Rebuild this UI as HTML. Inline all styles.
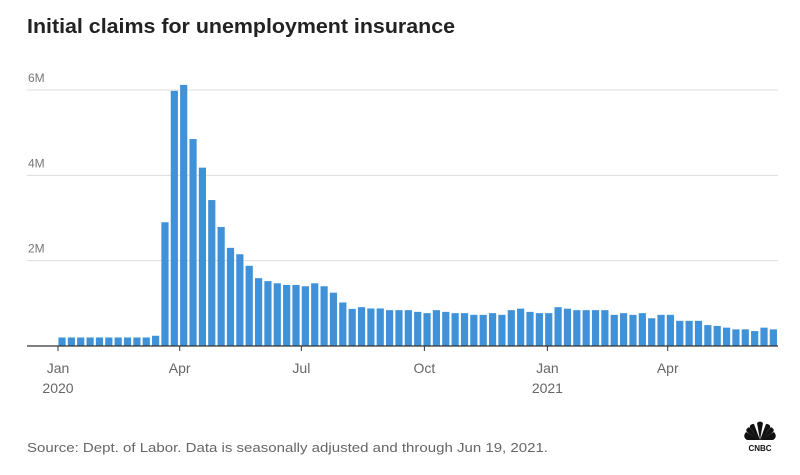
<!DOCTYPE html>
<html><head><meta charset="utf-8"><style>
body{margin:0;background:#fff;width:800px;height:470px;overflow:hidden;font-family:"Liberation Sans",sans-serif}
</style></head><body>
<svg width="800" height="470" xmlns="http://www.w3.org/2000/svg">
<text x="27" y="33" font-size="20" font-weight="bold" fill="#222" textLength="428" lengthAdjust="spacingAndGlyphs">Initial claims for unemployment insurance</text>
<g id="grid"></g><g id="bars"></g><g id="xaxis"></g>
<text x="27" y="452" font-size="13" fill="#666" textLength="521" lengthAdjust="spacingAndGlyphs">Source: Dept. of Labor. Data is seasonally adjusted and through Jun 19, 2021.</text>
<g fill="#111">
<path d="M760 440 L746 432 Q742 437 747 440Z M760 440 L749 427 Q744 430 748 433Z M760 440 L754 424 Q749 424 750 428Z M760 440 L766 424 Q771 424 770 428Z M760 440 L771 427 Q776 430 772 433Z M760 440 L774 432 Q778 437 773 440Z M760 440 L757 423 Q760 420 763 423Z"/>
<text x="760" y="451" font-size="8" font-weight="bold" text-anchor="middle">CNBC</text>
</g>
</svg>
<script>
const claims=[0.2,0.2,0.2,0.2,0.2,0.2,0.2,0.2,0.2,0.2,0.24,2.9,5.98,6.12,4.85,4.18,3.42,2.79,2.3,2.15,1.88,1.59,1.52,1.47,1.43,1.43,1.40,1.47,1.40,1.25,1.02,0.87,0.91,0.88,0.88,0.84,
0.84,0.84,0.80,0.77,0.84,0.80,0.77,0.77,0.73,0.73,0.77,0.73,0.84,0.875,0.80,0.77,0.77,0.91,0.875,0.84,0.84,0.84,0.84,0.73,0.77,0.73,0.77,0.65,0.73,0.73,0.59,0.59,0.59,0.49,0.47,0.43,0.39,0.39,0.35,0.43,0.39];
const yTicks=[2,4,6];
const yTickLabels=["2M","4M","6M"];
const xTickDays=[0,91,182,274,366,456];
const xTickLabels=["Jan","Apr","Jul","Oct","Jan","Apr"];
const xTickYears=["2020","","","","2021",""];
const NS="http://www.w3.org/2000/svg";
const base=346, pxPerM=42.67, x0=58, pxDay=9.36/7;
const y=v=>base-v*pxPerM;
const x=d=>x0+d*pxDay;
function mk(t,a,p){const e=document.createElementNS(NS,t);for(const k in a)e.setAttribute(k,a[k]);p.appendChild(e);return e;}
const grid=document.getElementById('grid'),bars=document.getElementById('bars'),xa=document.getElementById('xaxis');
yTicks.forEach((v,i)=>{
 const l=mk('line',{x1:27,x2:778,y1:y(v),y2:y(v),stroke:'#ddd','stroke-width':1},grid);
 
 
 const t=mk('text',{x:28,y:y(v)-8,'font-size':12,fill:'#777'},grid);t.textContent=yTickLabels[i];
 
 
});
claims.forEach((v,i)=>{
 const c=x(3+7*i);
 const r=mk('rect',{x:c-3.6,y:y(v),width:7.2,height:v*pxPerM,fill:'#3f92d8'},bars);
 
 
});
const ax=mk('line',{x1:27,x2:778,y1:base,y2:base,stroke:'#333','stroke-width':1.2},xa);


xTickDays.forEach((d,i)=>{
 const tk=mk('line',{x1:x(d),x2:x(d),y1:base,y2:base+5,stroke:'#333'},xa);
 
 
 const t=mk('text',{x:x(d),y:base+27,'font-size':14,fill:'#666','text-anchor':'middle'},xa);t.textContent=xTickLabels[i];
 
 
 if(xTickYears[i]){const t2=mk('text',{x:x(d),y:base+47,'font-size':14,fill:'#666','text-anchor':'middle'},xa);t2.textContent=xTickYears[i];
 
 }
});
</script>
</body></html>
